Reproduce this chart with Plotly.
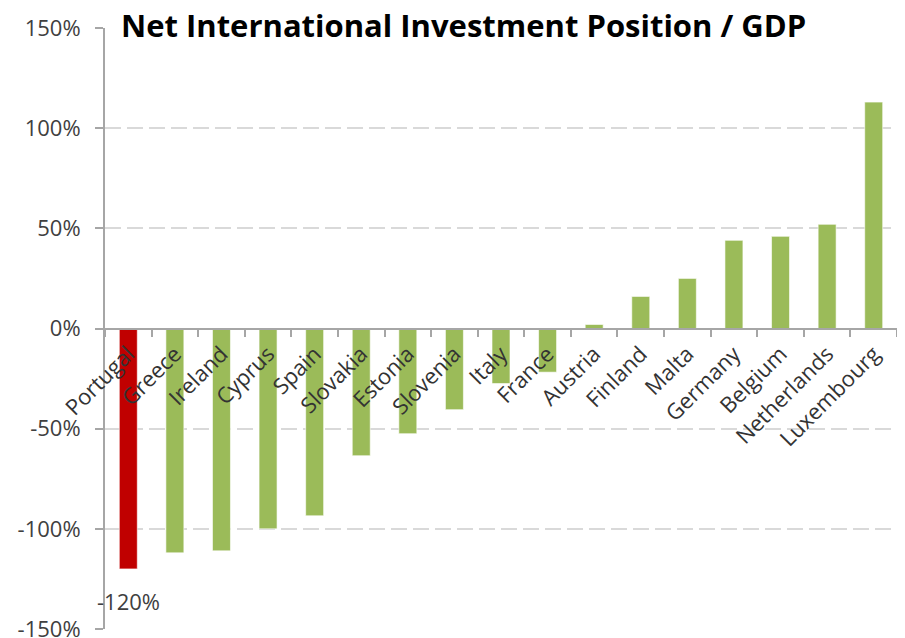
import plotly.graph_objects as go

countries = ["Portugal", "Greece", "Ireland", "Cyprus", "Spain", "Slovakia", "Estonia",
             "Slovenia", "Italy", "France", "Austria", "Finland", "Malta", "Germany",
             "Belgium", "Netherlands", "Luxembourg"]
niip_pct = [-120, -112, -111, -100, -93.5, -63.5, -52.5, -40.5, -27.5, -21.8,
            2, 16, 25, 44, 46, 52, 113]
y_ticks = [-150, -100, -50, 0, 50, 100, 150]
y_tick_labels = ["-150%", "-100%", "-50%", "0%", "50%", "100%", "150%"]
highlight = "Portugal"

colors = ["#C00000" if c == highlight else "#9BBB59" for c in countries]

fig = go.Figure()
fig.add_trace(go.Bar(
    x=countries, y=niip_pct,
    marker=dict(color=colors, line=dict(color="rgba(255,255,255,0.6)", width=1)),
    showlegend=False,
))

hi_idx = countries.index(highlight)
fig.add_annotation(
    x=countries[hi_idx], y=niip_pct[hi_idx],
    text=f"{niip_pct[hi_idx]:.0f}%", showarrow=False,
    yshift=-32, font=dict(family="Open Sans", size=22, color="#404040"),
)

fig.add_annotation(
    xref="paper", yref="paper", x=0.018, y=1.0, xanchor="left", yanchor="middle",
    text="<b>Net International Investment Position / GDP</b>", showarrow=False,
    yshift=3,
    font=dict(family="Open Sans", size=31, color="#000000"),
)

fig.update_layout(
    width=905, height=638,
    margin=dict(l=97, r=16, t=20, b=17),
    plot_bgcolor="white", paper_bgcolor="white",
    bargap=0.614,
    font=dict(family="Open Sans", color="#404040"),
)
fig.update_xaxes(
    range=[-0.5, len(countries) - 0.5], autorange=False,
    anchor="free", position=0.5,
    showline=True, linecolor="#A6A6A6", linewidth=2,
    ticks="outside", tickson="boundaries", ticklen=7, tickcolor="#A6A6A6", tickwidth=2,
    ticklabelstandoff=3,
    tickangle=-45, tickfont=dict(family="Open Sans", size=22, color="#333333"),
    showgrid=False, automargin=False,
)
fig.update_yaxes(
    range=[-150, 150], tickvals=y_ticks, ticktext=y_tick_labels,
    showline=True, linecolor="#A6A6A6", linewidth=2,
    ticks="outside", ticklen=8, tickcolor="#A6A6A6", tickwidth=2,
    ticklabelstandoff=10,
    showgrid=True, gridcolor="#D9D9D9", griddash="16px,6px", gridwidth=2,
    zeroline=False,
    tickfont=dict(family="Open Sans", size=22, color="#404040"),
    automargin=False,
)

fig.write_html("out.html")
